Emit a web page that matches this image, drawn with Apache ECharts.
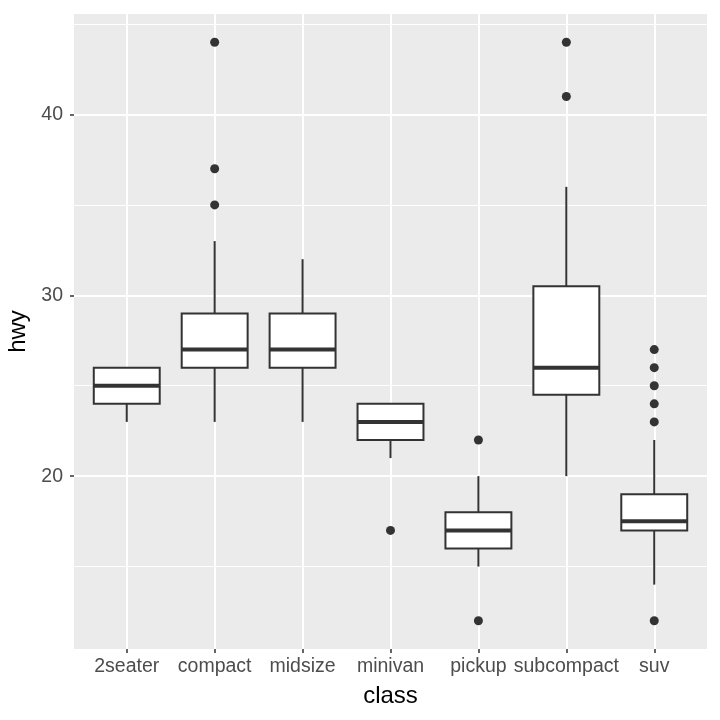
<!DOCTYPE html>
<html>
<head>
<meta charset="utf-8">
<script src="https://cdn.jsdelivr.net/npm/echarts@6/dist/echarts.min.js"></script>
<style>
  html, body { margin: 0; padding: 0; background: #fff; }
  #chart { width: 720px; height: 720px; }
</style>
</head>
<body>
<div id="chart"></div>
<script>
// hwy by class (mpg)
var classes = ['2seater', 'compact', 'midsize', 'minivan', 'pickup', 'subcompact', 'suv'];
var lowerWhisker = [23, 23, 23, 21, 15, 20, 14];
var q1 = [24, 26, 26, 22, 16, 24.5, 17];
var median = [25, 27, 27, 23, 17, 26, 17.5];
var q3 = [26, 29, 29, 24, 18, 30.5, 19];
var upperWhisker = [26, 33, 32, 24, 20, 36, 22];
var outliers = [
  [], [35, 37, 44], [], [17], [12, 22], [41, 44], [12, 23, 24, 25, 26, 27]
];
var yTicks = [20, 30, 40];

var positions = classes.map(function (c, i) { return i + 1; });

var boxData = [];
for (var i = 0; i < classes.length; i++) {
  boxData.push([i + 1, lowerWhisker[i], q1[i], median[i], q3[i], upperWhisker[i]]);
}
var outlierData = [];
for (var i = 0; i < outliers.length; i++) {
  for (var j = 0; j < outliers[i].length; j++) {
    outlierData.push([i + 1, outliers[i][j]]);
  }
}

function renderBox(params, api) {
  var x = api.value(0);
  var halfW = api.size([0.75, 0])[0] / 2;
  var pLow = api.coord([x, api.value(1)]);
  var pQ1 = api.coord([x, api.value(2)]);
  var pMed = api.coord([x, api.value(3)]);
  var pQ3 = api.coord([x, api.value(4)]);
  var pHigh = api.coord([x, api.value(5)]);
  var stroke = { stroke: '#333333', lineWidth: 2, fill: null };
  return {
    type: 'group',
    children: [
      { type: 'line', shape: { x1: pQ3[0], y1: pQ3[1], x2: pHigh[0], y2: pHigh[1] }, style: stroke },
      { type: 'line', shape: { x1: pQ1[0], y1: pQ1[1], x2: pLow[0], y2: pLow[1] }, style: stroke },
      { type: 'rect', shape: { x: pQ3[0] - halfW, y: pQ3[1], width: halfW * 2, height: pQ1[1] - pQ3[1] },
        style: { fill: '#ffffff', stroke: '#333333', lineWidth: 2 } },
      { type: 'line', shape: { x1: pMed[0] - halfW, y1: pMed[1], x2: pMed[0] + halfW, y2: pMed[1] },
        style: { stroke: '#333333', lineWidth: 4 } }
    ]
  };
}

var myChart = echarts.init(document.getElementById('chart'));
var option = {
  animation: false,
  backgroundColor: '#ffffff',
  textStyle: { fontFamily: 'Liberation Sans, Arial, sans-serif' },
  grid: {
    left: 74, top: 14, right: 13, bottom: 71,
    show: true, backgroundColor: '#EBEBEB', borderWidth: 0,
    containLabel: false,
    outerBoundsMode: 'none'
  },
  xAxis: {
    type: 'value',
    min: 0.4,
    max: 7.6,
    name: 'class',
    nameLocation: 'middle',
    nameGap: 35,
    nameTextStyle: { fontSize: 24, color: '#000000' },
    axisLine: { show: false },
    axisTick: { show: true, customValues: positions, length: 4, lineStyle: { color: '#333333', width: 1.5 } },
    axisLabel: {
      customValues: positions,
      formatter: function (v) { return classes[Math.round(v) - 1]; },
      color: '#4D4D4D', fontSize: 19.5, margin: 8
    },
    splitLine: { show: true, lineStyle: { color: '#ffffff', width: 2 } }
  },
  yAxis: {
    type: 'value',
    min: 10.44,
    max: 45.56,
    splitNumber: 4,
    minInterval: 10,
    maxInterval: 10,
    name: 'hwy',
    nameLocation: 'middle',
    nameGap: 42,
    nameRotate: 90,
    nameTextStyle: { fontSize: 24, color: '#000000' },
    axisLine: { show: false },
    axisTick: { show: true, customValues: yTicks, length: 4, lineStyle: { color: '#333333', width: 1.5 } },
    axisLabel: { customValues: yTicks, color: '#4D4D4D', fontSize: 19.5, margin: 11 },
    splitLine: { show: true, lineStyle: { color: '#ffffff', width: 2 } },
    minorTick: { show: false, splitNumber: 2 },
    minorSplitLine: { show: true, lineStyle: { color: '#ffffff', width: 1 } }
  },
  series: [
    {
      type: 'custom',
      renderItem: renderBox,
      encode: { x: 0, y: [1, 2, 3, 4, 5] },
      data: boxData,
      z: 2
    },
    {
      type: 'scatter',
      symbol: 'circle',
      symbolSize: 9,
      itemStyle: { color: '#333333', opacity: 1 },
      data: outlierData,
      z: 3
    }
  ]
};
myChart.setOption(option);
</script>
</body>
</html>
